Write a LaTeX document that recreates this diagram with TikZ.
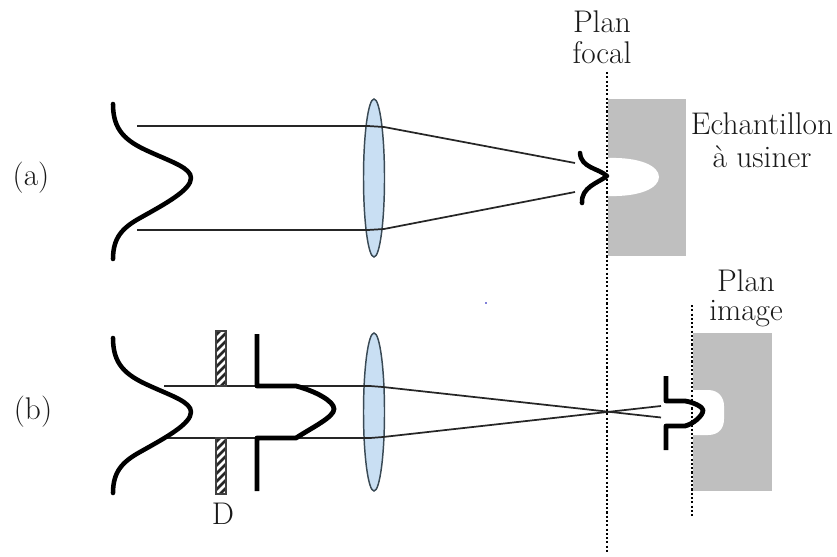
\documentclass[tikz,border=0pt]{standalone}
\usetikzlibrary{shapes.geometric}
\definecolor{lensfill}{HTML}{C9DFF3}
\definecolor{lensline}{HTML}{3A4A55}
\begin{document}
\begin{tikzpicture}[x=0.75pt,y=-0.75pt,
  lbl/.style={font=\fontsize{23.5}{28}\selectfont,inner sep=0pt,text=black!90},
  ray/.style={draw=black!85,line width=1.3pt,line join=round},
  thick curve/.style={draw=black,line width=3.4pt,line cap=round,line join=round},
  stopline/.style={draw=black,line width=3.6pt,line cap=butt,line join=round},
  lens/.style={draw=lensline,line width=1.1pt,fill=lensfill},
  sample/.style={fill=black!25,draw=none},
  hole/.style={fill=white,draw=none},
  planline/.style={draw=black,line width=1.6pt,dash pattern=on 1.6pt off 1.6pt}]
\useasboundingbox (0,0) rectangle (837,556);
% samples
\fill[sample] (608,99) rectangle (686,256);
\fill[hole] (608,158) .. controls (640,157) and (659,166) .. (659,177) .. controls (659,188) and (640,197) .. (608,196) -- cycle;
\fill[sample] (693,333) rectangle (772,491);
\fill[hole] (693,390) -- (708,390) .. controls (719,390) and (724,398) .. (724,406) -- (724,419) .. controls (724,428) and (719,435) .. (708,435) -- (693,435) -- cycle;
% plan lines
\coordinate (ft) at (607,72); \coordinate (fb) at (607,553);
\coordinate (it) at (692,305); \coordinate (ib) at (692,517);
\draw[planline] (ft) -- (fb);
\draw[planline] (it) -- (ib);
% lenses
\node[lens,ellipse,minimum width=15.75pt,minimum height=118.5pt,inner sep=0pt] (lensa) at (374,178) {};
\node[lens,ellipse,minimum width=15.75pt,minimum height=118.5pt,inner sep=0pt] (lensb) at (374,412) {};
% rays (a)
\coordinate (a1) at (137,126); \coordinate (a1e) at (575,163);
\coordinate (a2) at (137,230); \coordinate (a2e) at (575,192);
\draw[ray] (a1) -- (368,126) -- (384,127) -- (a1e);
\draw[ray] (a2) -- (368,230) -- (384,229) -- (a2e);
% rays (b)
\coordinate (b1) at (164,386); \coordinate (b1e) at (661,417.5);
\coordinate (b2) at (164,438); \coordinate (b2e) at (661,406);
\draw[ray] (b1) -- (370,386) -- (383,387) -- (b1e);
\draw[ray] (b2) -- (370,438) -- (383,437) -- (b2e);
% beam profiles
\draw[thick curve] (113,104) .. controls (113,130) and (125,141) .. (150,152) .. controls (172,162) and (191,168) .. (191,178) .. controls (191,190) and (165,204) .. (140,218) .. controls (122,228) and (113,238) .. (113,259);
\draw[thick curve] (113,338) .. controls (113,364) and (125,375) .. (150,386) .. controls (172,396) and (191,402) .. (191,412) .. controls (191,424) and (165,438) .. (140,452) .. controls (122,462) and (113,472) .. (113,493);
\draw[thick curve] (580,153) .. controls (581,168) and (598,168) .. (607,176) .. controls (598,183) and (581,187) .. (582,203);
% diaphragm D
\foreach \ya/\yb in {331/386,438/494}{
  \begin{scope}
    \clip (216,\ya) rectangle (226,\yb);
    \fill[white] (216,\ya) rectangle (226,\yb);
    \foreach \k in {0,8,...,190}{
      \draw[black!85,line width=2pt] (214,\ya-10+\k) -- (228,\ya-24+\k);
    }
  \end{scope}
  \draw[black!75,line width=0.8pt] (216,\ya) rectangle (226,\yb);
}
% stop and truncated beam
\draw[stopline] (257,334) -- (257,386) -- (296,386) .. controls (315,391) and (334,401) .. (334,409) .. controls (334,417) and (313,427) .. (296,438) -- (257,438) -- (257,491);
\draw[stopline] (666,376) -- (666,401) -- (685,401) .. controls (693,402) and (703,407) .. (703,410) .. controls (703,416) and (693,424) .. (685,426) -- (666,426) -- (666,450);
% labels
\node[lbl] (pf1) at (602,22) {Plan};
\node[lbl] (pf2) at (602,53) {focal};
\node[lbl] (pi1) at (746,281) {Plan};
\node[lbl] (pi2) at (746,314) {image};
\node[lbl] (ech) at (762,124) {Echantillon};
\node[lbl] (usi) at (762,157) {à usiner};
\node[lbl] (la) at (31,178) {(a)};
\node[lbl] (lb) at (33,412) {(b)};
\node[lbl] (ld) at (223,514) {D};
\fill[blue!70!black] (486,303) circle (0.7pt);
\end{tikzpicture}
\end{document}
